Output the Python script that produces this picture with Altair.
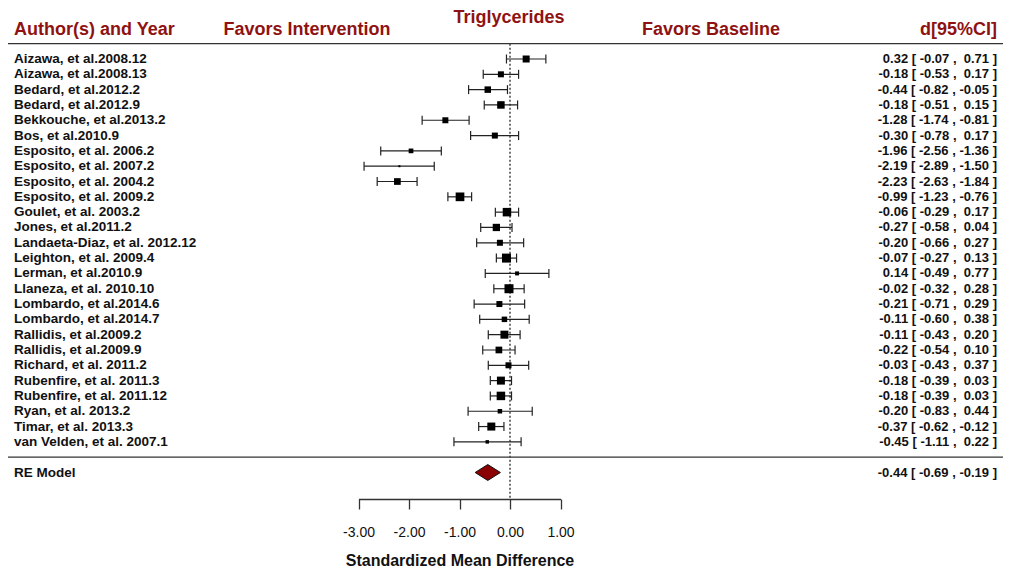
import altair as alt
import pandas as pd

# ---------------- data ----------------
studies = [
    "Aizawa, et al.2008.12", "Aizawa, et al.2008.13", "Bedard, et al.2012.2",
    "Bedard, et al.2012.9", "Bekkouche, et al.2013.2", "Bos, et al.2010.9",
    "Esposito, et al. 2006.2", "Esposito, et al. 2007.2", "Esposito, et al. 2004.2",
    "Esposito, et al. 2009.2", "Goulet, et al. 2003.2", "Jones, et al.2011.2",
    "Landaeta-Diaz, et al. 2012.12", "Leighton, et al. 2009.4", "Lerman, et al.2010.9",
    "Llaneza, et al. 2010.10", "Lombardo, et al.2014.6", "Lombardo, et al.2014.7",
    "Rallidis, et al.2009.2", "Rallidis, et al.2009.9", "Richard, et al. 2011.2",
    "Rubenfire, et al. 2011.3", "Rubenfire, et al. 2011.12", "Ryan, et al. 2013.2",
    "Timar, et al. 2013.3", "van Velden, et al. 2007.1",
]
yi = [0.32, -0.18, -0.44, -0.18, -1.28, -0.30, -1.96, -2.19, -2.23, -0.99,
      -0.06, -0.27, -0.20, -0.07, 0.14, -0.02, -0.21, -0.11, -0.11, -0.22,
      -0.03, -0.18, -0.18, -0.20, -0.37, -0.45]
ci_lb = [-0.07, -0.53, -0.82, -0.51, -1.74, -0.78, -2.56, -2.89, -2.63, -1.23,
         -0.29, -0.58, -0.66, -0.27, -0.49, -0.32, -0.71, -0.60, -0.43, -0.54,
         -0.43, -0.39, -0.39, -0.83, -0.62, -1.11]
ci_ub = [0.71, 0.17, -0.05, 0.15, -0.81, 0.17, -1.36, -1.50, -1.84, -0.76,
         0.17, 0.04, 0.27, 0.13, 0.77, 0.28, 0.29, 0.38, 0.20, 0.10,
         0.37, 0.03, 0.03, 0.44, -0.12, 0.22]
# relative study weights (square size)
weights = [7, 6, 6.5, 7.5, 6, 6, 4.7, 2, 6.7, 8.7, 8.5, 7.3, 6, 9, 4, 9, 6, 5.5,
           8, 6.7, 6, 8, 8.5, 4.5, 8, 3.5]

re_label = "RE Model"
re_est, re_lb, re_ub = -0.44, -0.69, -0.19

header_left = "Author(s) and Year"
header_fav_int = "Favors Intervention"
header_title = "Triglycerides"
header_fav_base = "Favors Baseline"
header_right = "d[95%CI]"
x_ticks = [-3, -2, -1, 0, 1]
x_title = "Standardized Mean Difference"

# ---------------- layout / style ----------------
W, H = 995, 491
FONT = "Liberation Sans"
DARKRED = "#8f1212"
NB = "\u00a0"


def fmt(e, l, u):
    return f"{e:5.2f} [ {l:5.2f} , {u:5.2f} ]".replace(" ", NB)


k = len(studies)
rows = list(range(k, 0, -1))
re_row = -1

df = pd.DataFrame({
    "label": studies, "yi": yi, "lb": ci_lb, "ub": ci_ub, "w": weights, "row": rows,
    "ann": [fmt(e, l, u) for e, l, u in zip(yi, ci_lb, ci_ub)],
})
txt_df = pd.DataFrame({
    "label": studies + [re_label],
    "row": rows + [re_row],
    "ann": list(df["ann"]) + [fmt(re_est, re_lb, re_ub)],
})
dia_h = 0.52
dia_df = pd.DataFrame({
    "x": [re_lb, re_est, re_ub],
    "lo": [re_row, re_row - dia_h, re_row],
    "hi": [re_row, re_row + dia_h, re_row],
})
sep_df = pd.DataFrame({"r": [k + 1, 0]})
zero_df = pd.DataFrame({"z": [0], "top": [k + 1]})

xs = alt.Scale(domain=[-3, 1], range=[350.5, 552.5], zero=False, nice=False)
ys = alt.Scale(domain=[-1, k], range=[464.5, 51], zero=False, nice=False)

xaxis = alt.Axis(
    values=x_ticks,
    labelExpr="replace(format(datum.value, '.2f'), '\u2212', '-')",
    tickSize=10, tickWidth=1.3, tickColor="#333",
    domainColor="#333", domainWidth=1.3, grid=False,
    labelFont=FONT, labelFontSize=14, labelColor="#111", labelPadding=16,
    labelFlush=False, labelOverlap=False,
    title=x_title, titleFont=FONT, titleFontSize=16, titleFontWeight="bold",
    titleColor="#111", titlePadding=13,
)


def X(field):
    return alt.X(field, type="quantitative", scale=xs, axis=xaxis)


def Y(field):
    return alt.Y(field, type="quantitative", scale=ys, axis=None)


base = alt.Chart(df)

ci = base.mark_rule(color="#222", strokeWidth=1.2).encode(x=X("lb"), x2="ub", y=Y("row"))
cap_l = base.mark_rule(color="#222", strokeWidth=1.2, yOffset=-4.5, y2Offset=4.5).encode(
    x=X("lb"), y=Y("row"), y2="row")
cap_r = base.mark_rule(color="#222", strokeWidth=1.2, yOffset=-4.5, y2Offset=4.5).encode(
    x=X("ub"), y=Y("row"), y2="row")
squares = base.mark_square(color="#000", opacity=1, filled=True).encode(
    x=X("yi"), y=Y("row"),
    size=alt.Size("w:Q", scale=alt.Scale(type="pow", exponent=2, domain=[0, 10], range=[0, 100]),
                  legend=None),
)

diamond = alt.Chart(dia_df).mark_area(fill="#8b0000", stroke="#111", strokeWidth=1, opacity=1).encode(
    x=X("x"), y=Y("lo"), y2="hi")

seps = alt.Chart(sep_df).mark_rule(color="#333", strokeWidth=1.3).encode(
    y=Y("r"), x=alt.value(0), x2=alt.value(W))

zero_line = alt.Chart(zero_df).mark_rule(color="#444", strokeWidth=1.5, strokeDash=[2, 2]).encode(
    x=X("z"), y=Y("top"), y2=alt.value(H))

labels = alt.Chart(txt_df).mark_text(
    align="left", baseline="middle", font=FONT, fontSize=13.5, fontWeight="bold", color="#111"
).encode(x=alt.value(6), y=Y("row"), text="label")

anns = alt.Chart(txt_df).mark_text(
    align="right", baseline="middle", font=FONT, fontSize=13, fontWeight="bold", color="#111"
).encode(x=alt.value(989), y=Y("row"), text="ann")


def header(text, xpx, ypx, align, baseline="middle"):
    return alt.Chart(pd.DataFrame({"t": [text]})).mark_text(
        align=align, baseline=baseline, font=FONT, fontSize=18, fontWeight="bold", color=DARKRED
    ).encode(x=alt.value(xpx), y=alt.value(ypx), text="t")


headers = [
    header(header_left, 6, 22, "left"),
    header(header_fav_int, 299, 22, "center"),
    header(header_title, 501, 0.5, "center", "top"),
    header(header_fav_base, 703, 22, "center"),
    header(header_right, 989, 22, "right"),
]

chart = alt.layer(
    seps, zero_line, ci, cap_l, cap_r, squares, diamond, labels, anns, *headers
).properties(
    width=W, height=H,
    autosize=alt.AutoSizeParams(type="none"),
    padding={"left": 0, "top": 0, "right": 0, "bottom": 74},
    background="white",
).configure_view(stroke=None)

chart.save("out.html", embed_options={"renderer": "svg", "actions": False})
